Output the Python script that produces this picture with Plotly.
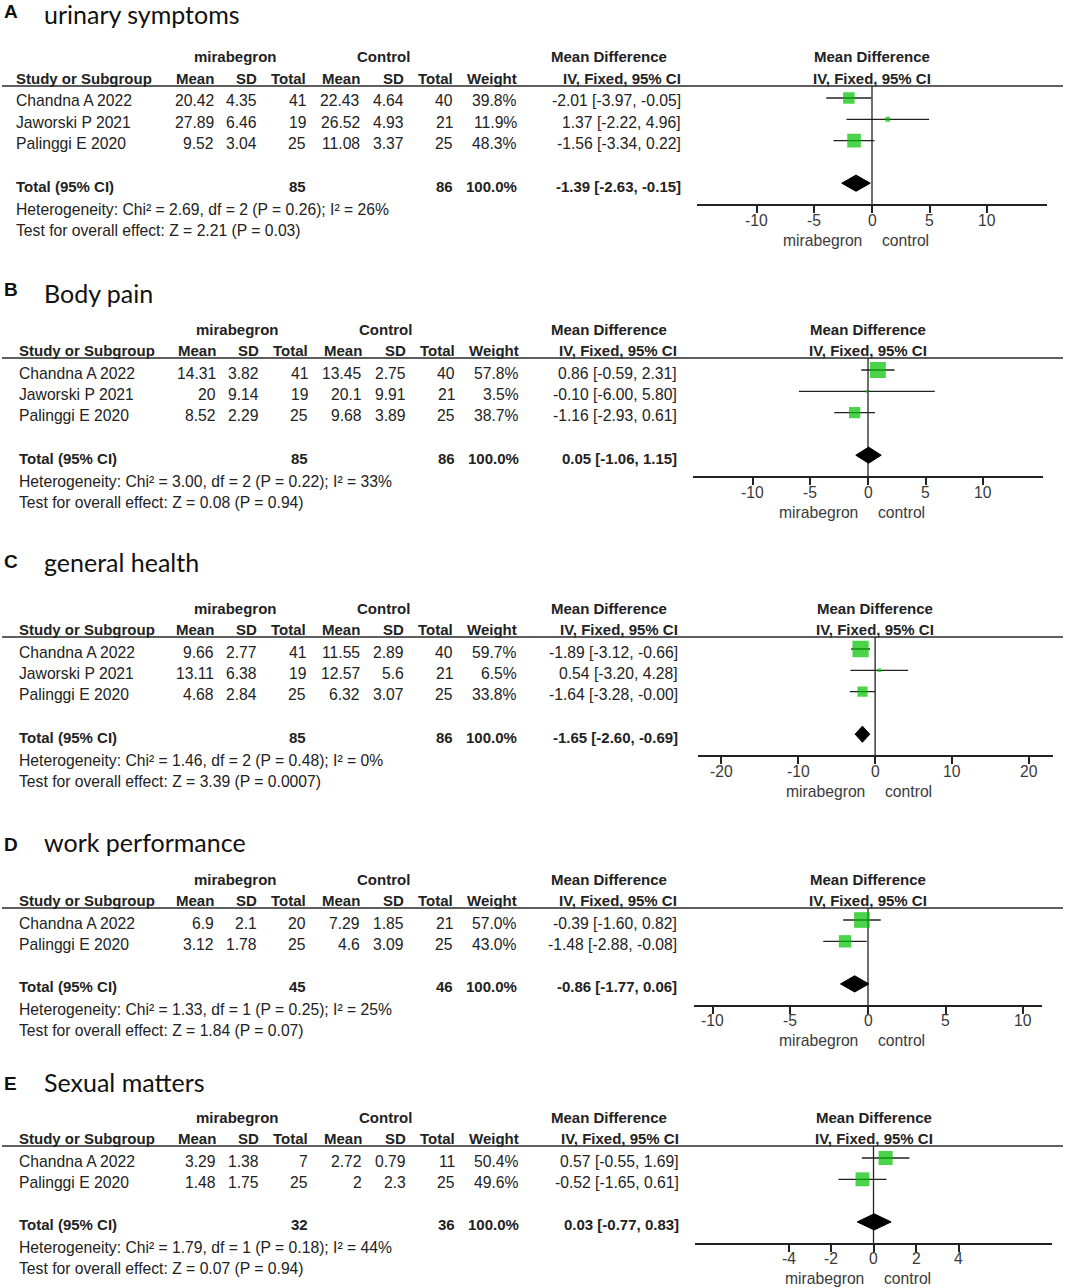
import plotly.graph_objects as go

W, H = 1072, 1288
FONT = "Liberation Sans, Arial, sans-serif"
TITLE_FONT = "Lato, sans-serif"
TXT = "#222222"
GRAY = "#3a3a3a"
GREEN = "#00c000"

# ------------------------------------------------------------------ data
letters = ["A", "B", "C", "D", "E"]
titles = ["urinary symptoms", "Body pain", "general health", "work performance", "Sexual matters"]

studies_A = ["Chandna A 2022", "Jaworski P 2021", "Palinggi E 2020"]
mir_mean_A = [20.42, 27.89, 9.52]
mir_sd_A = [4.35, 6.46, 3.04]
mir_n_A = [41, 19, 25]
ctl_mean_A = [22.43, 26.52, 11.08]
ctl_sd_A = [4.64, 4.93, 3.37]
ctl_n_A = [40, 21, 25]
weight_A = [39.8, 11.9, 48.3]
md_A = [-2.01, 1.37, -1.56]
lo_A = [-3.97, -2.22, -3.34]
hi_A = [-0.05, 4.96, 0.22]
total_n_A = [85, 86]
total_md_A = [-1.39, -2.63, -0.15]
het_A = [2.69, 2, 0.26, 26]
z_A = [2.21, 0.03]
ticks_A = [-10, -5, 0, 5, 10]

studies_B = ["Chandna A 2022", "Jaworski P 2021", "Palinggi E 2020"]
mir_mean_B = [14.31, 20, 8.52]
mir_sd_B = [3.82, 9.14, 2.29]
mir_n_B = [41, 19, 25]
ctl_mean_B = [13.45, 20.1, 9.68]
ctl_sd_B = [2.75, 9.91, 3.89]
ctl_n_B = [40, 21, 25]
weight_B = [57.8, 3.5, 38.7]
md_B = [0.86, -0.10, -1.16]
lo_B = [-0.59, -6.00, -2.93]
hi_B = [2.31, 5.80, 0.61]
total_n_B = [85, 86]
total_md_B = [0.05, -1.06, 1.15]
het_B = [3.00, 2, 0.22, 33]
z_B = [0.08, 0.94]
ticks_B = [-10, -5, 0, 5, 10]

studies_C = ["Chandna A 2022", "Jaworski P 2021", "Palinggi E 2020"]
mir_mean_C = [9.66, 13.11, 4.68]
mir_sd_C = [2.77, 6.38, 2.84]
mir_n_C = [41, 19, 25]
ctl_mean_C = [11.55, 12.57, 6.32]
ctl_sd_C = [2.89, 5.6, 3.07]
ctl_n_C = [40, 21, 25]
weight_C = [59.7, 6.5, 33.8]
md_C = [-1.89, 0.54, -1.64]
lo_C = [-3.12, -3.20, -3.28]
hi_C = [-0.66, 4.28, -0.00]
total_n_C = [85, 86]
total_md_C = [-1.65, -2.60, -0.69]
het_C = [1.46, 2, 0.48, 0]
z_C = [3.39, 0.0007]
ticks_C = [-20, -10, 0, 10, 20]

studies_D = ["Chandna A 2022", "Palinggi E 2020"]
mir_mean_D = [6.9, 3.12]
mir_sd_D = [2.1, 1.78]
mir_n_D = [20, 25]
ctl_mean_D = [7.29, 4.6]
ctl_sd_D = [1.85, 3.09]
ctl_n_D = [21, 25]
weight_D = [57.0, 43.0]
md_D = [-0.39, -1.48]
lo_D = [-1.60, -2.88]
hi_D = [0.82, -0.08]
total_n_D = [45, 46]
total_md_D = [-0.86, -1.77, 0.06]
het_D = [1.33, 1, 0.25, 25]
z_D = [1.84, 0.07]
ticks_D = [-10, -5, 0, 5, 10]

studies_E = ["Chandna A 2022", "Palinggi E 2020"]
mir_mean_E = [3.29, 1.48]
mir_sd_E = [1.38, 1.75]
mir_n_E = [7, 25]
ctl_mean_E = [2.72, 2]
ctl_sd_E = [0.79, 2.3]
ctl_n_E = [11, 25]
weight_E = [50.4, 49.6]
md_E = [0.57, -0.52]
lo_E = [-0.55, -1.65]
hi_E = [1.69, 0.61]
total_n_E = [32, 36]
total_md_E = [0.03, -0.77, 0.83]
het_E = [1.79, 1, 0.18, 44]
z_E = [0.07, 0.94]
ticks_E = [-4, -2, 0, 2, 4]

panels = []
for L in "ABCDE":
    g = globals()
    panels.append(dict(
        studies=g["studies_" + L], mir_mean=g["mir_mean_" + L], mir_sd=g["mir_sd_" + L],
        mir_n=g["mir_n_" + L], ctl_mean=g["ctl_mean_" + L], ctl_sd=g["ctl_sd_" + L],
        ctl_n=g["ctl_n_" + L], weight=g["weight_" + L], md=g["md_" + L], lo=g["lo_" + L],
        hi=g["hi_" + L], total_n=g["total_n_" + L], total_md=g["total_md_" + L],
        het=g["het_" + L], z=g["z_" + L], ticks=g["ticks_" + L]))

# ------------------------------------------------------------------ layout config (pixels)
cfg = [
    dict(h1=57, letter_y=12, title_y=14.2, study_x=14, dx=0, ci_r=683, ax=(697, 1047), xr=(-15.2, 15.2)),
    dict(h1=329, letter_y=289.5, title_y=292.5, study_x=17, dx=2, ci_r=679, ax=(693, 1043), xr=(-15.2, 15.2)),
    dict(h1=608, letter_y=561.5, title_y=561.5, study_x=17, dx=0, ci_r=680, ax=(698, 1053), xr=(-23, 23.1)),
    dict(h1=879, letter_y=844.5, title_y=841.5, study_x=17, dx=0, ci_r=679, ax=(694, 1042), xr=(-11.2, 11.2)),
    dict(h1=1117, letter_y=1083.5, title_y=1081.5, study_x=17, dx=2, ci_r=681, ax=(695, 1052), xr=(-8.4, 8.4)),
]
COL = dict(mir_mean=216, mir_sd=259, mir_n=308, ctl_mean=362, ctl_sd=406, ctl_n=455,
           weight=519, md_hdr=609, mir_hdr=235, ctl_hdr=383)
ROW = 21.3
FS = 15.7
FSB = 15


def X(px):
    return px / W


def Y(py):
    return 1 - py / H


ann = []
shapes = []
traces = []
layout_axes = {}


def txt(x, y, s, anchor="left", bold=False, size=FS, color=TXT, xref="paper", xshift=0, family=FONT):
    ann.append(dict(x=X(x) if xref == "paper" else x, y=Y(y), xref=xref, yref="paper",
                    text=s, showarrow=False, xanchor=anchor, yanchor="middle", xshift=xshift,
                    font=dict(family=family, size=size, color=color,
                              weight="bold" if bold else "normal")))


def g(v):
    return f"{v:g}"


for k, (p, c) in enumerate(zip(panels, cfg)):
    n = len(p["studies"])
    h1 = c["h1"]
    h2 = h1 + 21.5
    dx = c["dx"]
    row_y = [h1 + 44 + ROW * i for i in range(n)]
    tot_y = h1 + 44 + ROW * (n + 1)
    het_y = tot_y + 23
    test_y = tot_y + 44
    line_y = h1 + 29
    axis_y = tot_y + 18

    # titles
    txt(2, c["letter_y"], letters[k], bold=True, size=19, color="#111111")
    txt(42, c["title_y"], titles[k], size=25, color="#111111", family=TITLE_FONT)

    # headers
    txt(COL["mir_hdr"] + dx, h1, "mirabegron", anchor="center", bold=True, size=FSB)
    txt(COL["ctl_hdr"] + dx, h1, "Control", anchor="center", bold=True, size=FSB)
    txt(COL["md_hdr"], h1, "Mean Difference", anchor="center", bold=True, size=FSB)
    txt(c["study_x"], h2, "Study or Subgroup", bold=True, size=FSB)
    for key, lab in [("mir_mean", "Mean"), ("mir_sd", "SD"), ("mir_n", "Total"),
                     ("ctl_mean", "Mean"), ("ctl_sd", "SD"), ("ctl_n", "Total"),
                     ("weight", "Weight")]:
        txt(COL[key] + dx, h2, lab, anchor="right", bold=True, size=FSB)
    txt(c["ci_r"], h2, "IV, Fixed, 95% CI", anchor="right", bold=True, size=FSB)

    shapes.append(dict(type="line", xref="paper", yref="paper", x0=X(2), x1=X(1063),
                       y0=Y(line_y), y1=Y(line_y), line=dict(color="#2a2a2a", width=1.5)))

    # study rows
    for i in range(n):
        y = row_y[i]
        txt(c["study_x"], y, p["studies"][i])
        txt(COL["mir_mean"] + dx, y, g(p["mir_mean"][i]), anchor="right")
        txt(COL["mir_sd"] + dx, y, g(p["mir_sd"][i]), anchor="right")
        txt(COL["mir_n"] + dx, y, g(p["mir_n"][i]), anchor="right")
        txt(COL["ctl_mean"] + dx, y, g(p["ctl_mean"][i]), anchor="right")
        txt(COL["ctl_sd"] + dx, y, g(p["ctl_sd"][i]), anchor="right")
        txt(COL["ctl_n"] + dx, y, g(p["ctl_n"][i]), anchor="right")
        txt(COL["weight"] + dx, y, f"{p['weight'][i]:.1f}%", anchor="right")
        txt(c["ci_r"], y, f"{p['md'][i]:.2f} [{p['lo'][i]:.2f}, {p['hi'][i]:.2f}]", anchor="right")

    # total rows
    tm = p["total_md"]
    txt(c["study_x"], tot_y, "Total (95% CI)", bold=True, size=FSB)
    txt(COL["mir_n"] + dx, tot_y, g(p["total_n"][0]), anchor="right", bold=True, size=FSB)
    txt(COL["ctl_n"] + dx, tot_y, g(p["total_n"][1]), anchor="right", bold=True, size=FSB)
    txt(COL["weight"] + dx, tot_y, f"{sum(p['weight']):.1f}%", anchor="right", bold=True, size=FSB)
    txt(c["ci_r"], tot_y, f"{tm[0]:.2f} [{tm[1]:.2f}, {tm[2]:.2f}]", anchor="right", bold=True, size=FSB)
    chi2, df, pv, i2 = p["het"]
    txt(c["study_x"], het_y, f"Heterogeneity: Chi² = {chi2:.2f}, df = {df} (P = {g(pv)}); I² = {i2}%")
    zz, pz = p["z"]
    txt(c["study_x"], test_y, f"Test for overall effect: Z = {zz:.2f} (P = {g(pz)})")

    # forest axes
    sfx = "" if k == 0 else str(k + 1)
    xa, ya = "x" + sfx, "y" + sfx
    r_top = (line_y - (h1 + 41)) / ROW
    r_bot = (axis_y - (h1 + 41)) / ROW
    layout_axes["xaxis" + sfx] = dict(
        domain=[X(c["ax"][0]), X(c["ax"][1])], range=list(c["xr"]), anchor=ya,
        showline=True, linecolor="#222222", linewidth=1.6, ticks="outside", ticklen=7,
        tickwidth=1.5, tickcolor="#222222", tickvals=p["ticks"], showticklabels=False,
        showgrid=False, zeroline=False, fixedrange=True)
    layout_axes["yaxis" + sfx] = dict(
        domain=[Y(axis_y), Y(line_y)], range=[r_bot, r_top], visible=False,
        fixedrange=True)

    # tick labels (ASCII hyphen as in the reference)
    for t in p["ticks"]:
        txt(t, axis_y + 16, g(t), anchor="center", xref=xa, color=GRAY)

    rows = list(range(n))
    # zero line
    traces.append(go.Scatter(x=[0, 0], y=[r_top, r_bot], mode="lines",
                             line=dict(color="#222222", width=1.3), xaxis=xa, yaxis=ya,
                             hoverinfo="skip", showlegend=False))
    # CI lines
    cx, cy = [], []
    for i in rows:
        cx += [p["lo"][i], p["hi"][i], None]
        cy += [i, i, None]
    traces.append(go.Scatter(x=cx, y=cy, mode="lines", line=dict(color="#222222", width=1.3),
                             xaxis=xa, yaxis=ya, hoverinfo="skip", showlegend=False))
    # squares
    traces.append(go.Scatter(x=p["md"], y=rows, mode="markers",
                             marker=dict(symbol="square", size=[2 + 0.24 * w for w in p["weight"]],
                                         color=GREEN, line=dict(width=0)),
                             xaxis=xa, yaxis=ya, hoverinfo="skip", showlegend=False))
    # diamond
    rt = n + 1
    hh = 0.38
    traces.append(go.Scatter(x=[tm[1], tm[0], tm[2], tm[0], tm[1]],
                             y=[rt, rt - hh, rt, rt + hh, rt], mode="lines", fill="toself",
                             fillcolor="#000000", line=dict(color="#000000", width=1),
                             xaxis=xa, yaxis=ya, hoverinfo="skip", showlegend=False))

    # right header + direction labels
    txt(0, h1, "Mean Difference", anchor="center", bold=True, size=FSB, xref=xa)
    txt(0, h2, "IV, Fixed, 95% CI", anchor="center", bold=True, size=FSB, xref=xa)
    txt(0, axis_y + 36, "mirabegron", anchor="right", xref=xa, xshift=-8, color=GRAY)
    txt(0, axis_y + 36, "control", anchor="left", xref=xa, xshift=8, color=GRAY)

fig = go.Figure(traces)
fig.update_layout(width=W, height=H, margin=dict(l=0, r=0, t=0, b=0),
                  paper_bgcolor="white", plot_bgcolor="rgba(0,0,0,0)",
                  showlegend=False, annotations=ann, shapes=shapes, **layout_axes)
fig.write_html("out.html", config={"displayModeBar": False},
               post_script="document.body.style.margin='0';")
